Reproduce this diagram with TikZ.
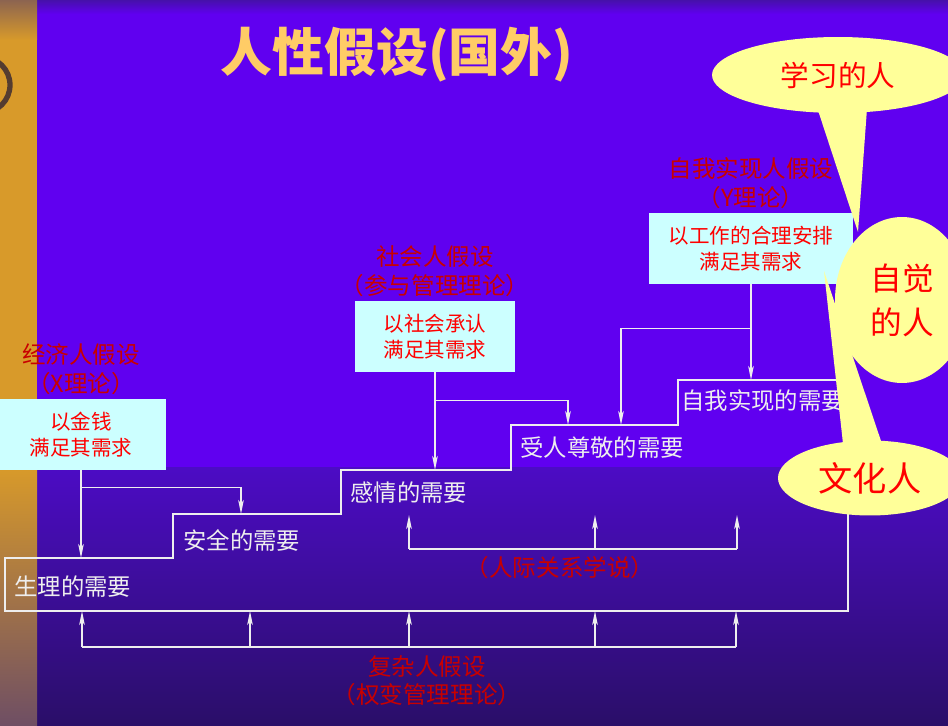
\documentclass[tikz,border=0pt]{standalone}
\usepackage{fontspec}
\setmainfont{Noto Sans CJK SC}
\usetikzlibrary{arrows.meta, positioning, shapes.geometric, shapes.callouts}

\definecolor{bgtop}{RGB}{96,0,240}
\definecolor{bgband}{RGB}{70,16,170}
\definecolor{bglow}{RGB}{76,12,196}
\definecolor{bgbottom}{RGB}{42,14,104}
\definecolor{stripgold}{RGB}{216,154,42}
\definecolor{stripbrown}{RGB}{140,100,80}
\definecolor{stripdusk}{RGB}{110,78,100}
\definecolor{boxcyan}{RGB}{204,255,255}
\definecolor{headred}{RGB}{200,0,0}
\definecolor{textred}{RGB}{255,0,0}
\definecolor{titlegold}{RGB}{255,204,102}
\definecolor{bubbleyellow}{RGB}{255,255,153}
\definecolor{needwhite}{RGB}{238,238,238}

\begin{document}
\begin{tikzpicture}[
        x=0.02cm, y=-0.02cm,
        node distance=0.08cm,
        theory/.style={
            rectangle,
            fill=boxcyan,
            minimum height=1.42cm,
            inner sep=0pt,
            align=center,
            text=textred,
            font=\fontsize{11.7}{14.7}\selectfont
        },
        heading/.style={
            align=center,
            inner sep=0pt,
            text=headred,
            font=\fontsize{13.4}{16}\selectfont
        },
        need/.style={
            anchor=west,
            inner sep=0pt,
            text=needwhite,
            font=\fontsize{13.3}{16}\selectfont
        },
        bubble/.style={
            ellipse callout,
            fill=bubbleyellow,
            inner sep=0pt,
            text=textred
        },
        stair/.style={draw=needwhite, line width=0.8pt},
        link/.style={draw=needwhite, line width=0.8pt},
        arrow/.style={-{Stealth[length=8pt, width=3.2pt, inset=2pt]}, draw=needwhite, line width=0.8pt}
    ]

    \useasboundingbox (0,0) rectangle (948,726);
    \clip (0,0) rectangle (948,726);

    % background
    \fill[bgtop] (37,0) rectangle (948,468);
    \shade[top color=bgband, bottom color=bgtop] (37,0) rectangle (948,14);
    \shade[top color=bglow, bottom color=bgbottom] (37,468) rectangle (948,726);
    \fill[stripgold] (0,40) rectangle (37,468);
    \shade[top color=stripbrown, bottom color=stripgold] (0,0) rectangle (37,40);
    \shade[top color=stripgold, bottom color=stripdusk] (0,468) rectangle (37,726);
    \draw[line width=3pt, draw=stripbrown!60!black] (-18,85) circle[radius=0.56cm];

    \node[font=\bfseries\fontsize{29.5}{34}\selectfont, text=titlegold] (title) at (397,55) {人性假设(国外)};

    % theories
    \node[theory, minimum width=3.42cm] (moneybox) at (81,434.5) {以金钱\\满足其需求};
    \node[theory, minimum width=3.2cm] (socialbox) at (435,336.5) {以社会承认\\满足其需求};
    \node[theory, minimum width=4.1cm] (workbox) at (751,248.5) {以工作的合理安排\\满足其需求};

    \node[heading, above=of moneybox] (econ) {经济人假设\\（X理论）};
    \node[heading, above=of socialbox] (social) {社会人假设\\（参与管理理论）};
    \node[heading, above=of workbox] (selfman) {自我实现人假设\\（Y理论）};

    % needs
    \draw[stair] (848,611) coordinate (base) -- (5,611) -- (5,558) coordinate (t1) -- (173,558)
        -- (173,514) coordinate (t2) -- (341,514)
        -- (341,470) coordinate (t3) -- (511,470)
        -- (511,425) coordinate (t4) -- (678,425)
        -- (678,380) coordinate (t5) -- (848,380) -- cycle;

    \node[need] (physio) at (14,587) {生理的需要};
    \node[need] (safety) at (183,540) {安全的需要};
    \node[need] (affect) at (350,493) {感情的需要};
    \node[need] (esteem) at (520,448) {受人尊敬的需要};
    \node[need] (selfact) at (681,401) {自我实现的需要};

    \coordinate (a2) at (241,514);
    \coordinate (a4) at (568,425);
    \coordinate (a4b) at (621,425);

    \draw[arrow] (moneybox.south) -- (moneybox.south |- t1);
    \draw[arrow] (moneybox.south) ++(0,17) -| (a2);
    \draw[arrow] (socialbox.south) -- (socialbox.south |- t3);
    \draw[arrow] (socialbox.south) ++(0,28) -| (a4);
    \draw[arrow] (workbox.south) -- (workbox.south |- t5);
    \draw[arrow] (workbox.south) ++(0,44) -| (a4b);

    % human relations
    \coordinate (h1) at (409,549);
    \coordinate (h2) at (595,549);
    \coordinate (h3) at (737,549);
    \draw[link] (h1) -- (h3);
    \draw[arrow] (h1) -- ++(0,-34);
    \draw[arrow] (h2) -- ++(0,-34);
    \draw[arrow] (h3) -- ++(0,-34);
    \node[heading] (hrtheory) at (560,568) {（人际关系学说）};

    % complex man
    \coordinate (k1) at (82,647);
    \coordinate (k2) at (250,647);
    \coordinate (k3) at (409,647);
    \coordinate (k4) at (595,647);
    \coordinate (k5) at (736,647);
    \draw[link] (k1) -- (k5);
    \draw[arrow] (k1) -- (k1 |- base);
    \draw[arrow] (k2) -- (k2 |- base);
    \draw[arrow] (k3) -- (k3 |- base);
    \draw[arrow] (k4) -- (k4 |- base);
    \draw[arrow] (k5) -- (k5 |- base);
    \node[heading] (complex) at (427,681) {复杂人假设\\（权变管理理论）};

    % callouts
    \node[bubble, minimum width=5.04cm, minimum height=1.52cm, callout pointer arc=22,
        callout absolute pointer={(858,232)}, font=\fontsize{16.3}{20}\selectfont] (learner) at (838,75) {学习的人};
    \node[bubble, minimum width=3.68cm, minimum height=1.5cm, callout pointer arc=24,
        callout absolute pointer={(824,271)}, font=\fontsize{19.5}{22}\selectfont] (culture) at (870,478) {文化人};
    \node[ellipse, fill=bubbleyellow, minimum width=2.68cm, minimum height=3.32cm, inner sep=0pt,
        align=center, text=textred, font=\fontsize{18}{25}\selectfont] (aware) at (902,300) {自觉\\的人};

\end{tikzpicture}
\end{document}
